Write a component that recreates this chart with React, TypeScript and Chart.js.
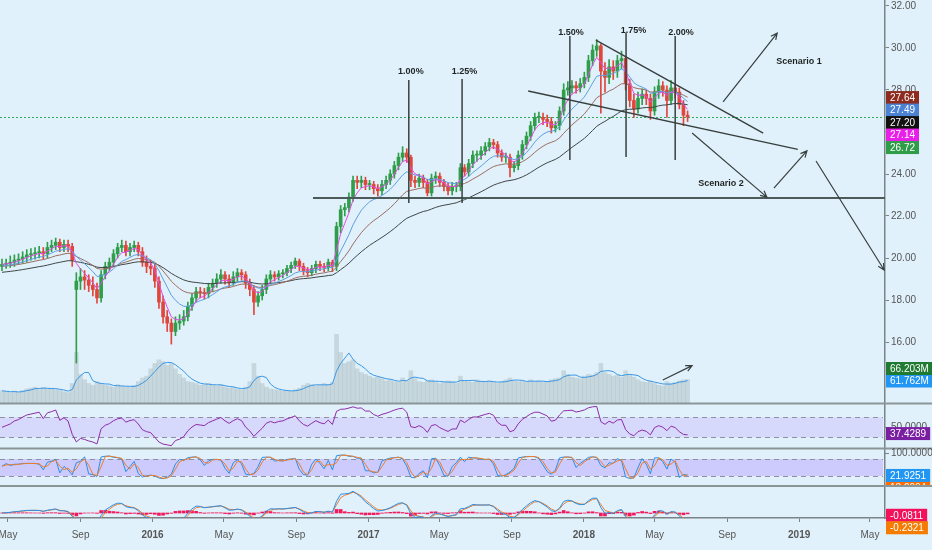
import { useEffect, useRef } from 'react';
import { Chart, registerables } from 'chart.js';

Chart.register(...registerables);

const FONT = "'Liberation Sans', Arial, sans-serif";
const BG = '#e1f1fb';

// ---------- weekly price data ----------
const closes = [
  19.7, 19.75, 19.8, 19.9, 19.95, 20.05, 20.15, 20.2, 20.25, 20.3,
  20.2, 20.5, 20.6, 20.75, 20.5, 20.65, 20.55, 19.9, 18.9, 19.1,
  18.95, 18.7, 18.5, 18.1, 19.2, 19.6, 19.8, 20.2, 20.5, 20.6,
  20.3, 20.5, 20.6, 20.3, 19.8, 19.6, 19.5, 18.9, 17.9, 17.2,
  16.9, 16.5, 16.9, 17.0, 17.2, 17.7, 18.1, 18.4, 18.35, 18.3,
  18.6, 18.8, 19.0, 19.2, 19.0, 18.85, 19.1, 19.3, 19.2, 18.8,
  18.5, 17.9, 18.2, 18.5, 19.0, 19.2, 19.1, 19.25, 19.3, 19.5,
  19.65, 19.85, 19.6, 19.4, 19.3, 19.5, 19.7, 19.6, 19.55, 19.8,
  19.6, 21.5, 22.3, 22.4, 22.9, 23.7, 23.6, 23.7, 23.5, 23.5,
  23.3, 23.2, 23.5, 23.7, 24.0, 24.4, 24.8, 25.0, 24.8, 23.7,
  23.6, 23.8, 23.6, 23.1, 23.8, 23.9, 23.6, 23.4, 23.2, 23.4,
  23.4, 24.3, 24.1, 24.5, 24.9, 24.9, 25.1, 25.3, 25.5, 25.4,
  25.0, 24.8, 24.8, 24.3, 24.4, 24.9, 25.4, 25.8, 26.3, 26.7,
  26.7, 26.6, 26.5, 26.2, 26.3, 27.0, 28.0, 28.1, 28.2, 28.1,
  28.3, 28.6, 29.4, 29.9, 30.1, 28.9, 28.6, 29.1, 28.9, 29.4,
  29.5, 28.3, 27.5, 27.1, 27.6, 27.8, 27.6, 27.0, 27.9, 28.2,
  28.0, 27.5, 28.1, 27.9, 27.3, 26.8, 26.72,
];
const opens = [
  19.6, 19.7, 19.75, 19.8, 19.9, 19.95, 20.05, 20.15, 20.2, 20.25,
  20.3, 20.2, 20.5, 20.6, 20.75, 20.5, 20.65, 20.55, 18.5, 18.9,
  19.1, 18.95, 18.7, 18.5, 18.1, 19.2, 19.6, 19.8, 20.2, 20.5,
  20.6, 20.3, 20.5, 20.6, 20.3, 19.8, 19.6, 19.5, 18.9, 17.9,
  17.2, 16.9, 16.5, 16.9, 17.0, 17.2, 17.7, 18.1, 18.4, 18.35,
  18.3, 18.6, 18.8, 19.0, 19.2, 19.0, 18.85, 19.1, 19.3, 19.2,
  18.8, 18.5, 17.9, 18.2, 18.5, 19.0, 19.2, 19.1, 19.25, 19.3,
  19.5, 19.65, 19.85, 19.6, 19.4, 19.3, 19.5, 19.7, 19.6, 19.55,
  19.8, 19.6, 21.5, 22.3, 22.4, 22.9, 23.7, 23.6, 23.7, 23.5,
  23.5, 23.3, 23.2, 23.5, 23.7, 24.0, 24.4, 24.8, 25.0, 24.8,
  23.7, 23.6, 23.8, 23.6, 23.1, 23.8, 23.9, 23.6, 23.4, 23.2,
  23.4, 23.4, 24.3, 24.1, 24.5, 24.9, 24.9, 25.1, 25.3, 25.5,
  25.4, 25.0, 24.8, 24.8, 24.3, 24.4, 24.9, 25.4, 25.8, 26.3,
  26.7, 26.7, 26.6, 26.5, 26.2, 26.3, 27.0, 28.0, 28.1, 28.2,
  28.1, 28.3, 28.6, 29.4, 29.9, 30.1, 28.9, 28.6, 29.1, 28.9,
  29.4, 29.5, 28.3, 27.5, 27.1, 27.6, 27.8, 27.6, 27.0, 27.9,
  28.2, 28.0, 27.5, 28.1, 27.9, 27.3, 26.8,
];
const highs = [
  19.95, 19.95, 20.1, 20.15, 20.2, 20.3, 20.4, 20.45, 20.5, 20.55,
  20.5, 20.75, 20.85, 20.95, 20.9, 20.85, 20.85, 20.7, 19.3, 19.5,
  19.4, 19.2, 19.1, 18.8, 19.4, 19.8, 20.0, 20.4, 20.7, 20.85,
  20.8, 20.7, 20.8, 20.75, 20.5, 20.1, 19.9, 19.7, 19.1, 18.2,
  17.5, 17.1, 17.2, 17.3, 17.5, 17.9, 18.3, 18.6, 18.6, 18.55,
  18.8, 19.0, 19.25, 19.45, 19.35, 19.2, 19.35, 19.5, 19.45, 19.35,
  19.0, 18.7, 18.4, 18.7, 19.2, 19.4, 19.35, 19.4, 19.45, 19.65,
  19.8, 20.0, 19.95, 19.75, 19.55, 19.65, 19.85, 19.85, 19.75, 19.95,
  19.9, 21.7, 22.5, 22.6, 23.1, 23.9, 23.9, 23.9, 23.85, 23.7,
  23.65, 23.5, 23.7, 23.9, 24.2, 24.6, 25.0, 25.3, 25.2, 24.9,
  23.9, 24.0, 23.95, 23.75, 24.0, 24.1, 24.05, 23.75, 23.55, 23.6,
  23.6, 24.5, 24.45, 24.7, 25.1, 25.1, 25.3, 25.5, 25.7, 25.65,
  25.55, 25.15, 25.0, 24.95, 24.6, 25.1, 25.6, 26.0, 26.5, 26.9,
  26.95, 26.9, 26.8, 26.7, 26.5, 27.2, 28.3, 28.4, 28.45, 28.4,
  28.55, 28.85, 29.65, 30.15, 30.4, 30.2, 29.3, 29.45, 29.4, 29.65,
  29.85, 29.6, 28.5, 27.8, 27.9, 28.05, 28.0, 27.8, 28.15, 28.5,
  28.4, 28.2, 28.45, 28.3, 28.1, 27.5, 27.0,
];
const lows = [
  19.4, 19.5, 19.55, 19.6, 19.7, 19.75, 19.8, 19.9, 19.95, 20.0,
  19.95, 20.0, 20.3, 20.4, 20.3, 20.3, 20.3, 19.6, 15.0, 18.5,
  18.5, 18.4, 18.2, 17.85, 17.9, 19.0, 19.4, 19.6, 20.0, 20.3,
  20.1, 20.1, 20.3, 20.1, 19.6, 19.3, 19.2, 18.6, 17.6, 16.9,
  16.5, 15.9, 16.3, 16.6, 16.8, 17.0, 17.5, 17.9, 18.1, 18.05,
  18.1, 18.4, 18.6, 18.8, 18.75, 18.6, 18.7, 18.9, 18.95, 18.55,
  18.2, 17.3, 17.7, 18.0, 18.3, 18.8, 18.9, 18.95, 19.05, 19.15,
  19.3, 19.5, 19.4, 19.2, 19.1, 19.15, 19.3, 19.4, 19.35, 19.4,
  19.35, 19.4, 21.2, 22.0, 22.2, 22.7, 23.3, 23.35, 23.25, 23.25,
  23.05, 22.95, 23.0, 23.3, 23.5, 23.8, 24.2, 24.6, 24.55, 23.4,
  23.35, 23.4, 23.35, 22.96, 22.95, 23.55, 23.4, 23.2, 23.0, 23.0,
  23.15, 23.2, 23.9, 23.9, 24.3, 24.6, 24.7, 24.9, 25.1, 25.2,
  24.8, 24.6, 24.55, 23.86, 24.1, 24.2, 24.7, 25.2, 25.6, 26.1,
  26.45, 26.35, 26.25, 25.95, 26.0, 26.1, 26.8, 27.75, 27.85, 27.85,
  27.9, 28.1, 28.4, 29.15, 29.6, 26.9, 27.9, 28.3, 28.5, 28.6,
  29.0, 28.0, 27.2, 26.7, 26.9, 27.3, 27.3, 26.6, 26.8, 27.6,
  27.7, 26.7, 27.3, 27.6, 27.1, 26.3, 26.5,
];
// average daily volume per week, millions
const volumes = [
  35, 32, 30, 34, 31, 36, 40, 42, 45, 38, 44, 40, 42, 38, 36, 32, 30, 55, 140, 80,
  65, 55, 50, 60, 55, 50, 48, 45, 52, 48, 45, 44, 50, 60, 70, 75, 95, 110, 120, 115,
  105, 110, 95, 80, 70, 60, 58, 55, 50, 52, 55, 50, 48, 52, 45, 42, 44, 40, 38, 45,
  60, 110, 75, 55, 45, 40, 38, 36, 34, 35, 33, 38, 42, 50, 55, 52, 48, 50, 55, 52, 58,
  190, 140, 110, 115, 120, 95, 85, 80, 75, 70, 72, 68, 62, 65, 60, 58, 70, 62, 90, 68,
  60, 58, 62, 65, 60, 55, 58, 62, 60, 55, 75, 62, 60, 58, 65, 60, 58, 62, 60, 55,
  60, 65, 70, 62, 60, 62, 58, 65, 60, 62, 58, 60, 65, 68, 70, 90, 80, 72, 70, 68,
  75, 80, 78, 85, 110, 85, 80, 75, 78, 72, 90, 80, 72, 65, 60, 58, 62, 55, 50, 48,
  60, 55, 58, 62, 65, 66.2,
];

// moving averages (periods in weeks) and their starting values read at the left edge
const maPeriods = [4, 10, 20, 40];
const maSeeds = [19.7, 19.6, 19.6, 19.3];
const maColors = ['#e24be6', '#5f9fe0', '#9b6d63', '#3e4747'];

// time axis
const tickWeeks = [1.45, 19.02, 36.45, 53.74, 71.31, 88.74, 105.88, 123.45, 140.88, 158.02, 175.59, 193.02, 210.16];
const tickLabels = ['May', 'Sep', '2016', 'May', 'Sep', '2017', 'May', 'Sep', '2018', 'May', 'Sep', '2019', 'May'];
const priceTicks = [16, 18, 20, 22, 24, 26, 28, 30, 32];

// annotations (data coordinates: week index, price)
const hikeLines = [
  { label: '1.00%', week: 98.5, labelWeek: 99.0, top: 28.48, bottom: 22.62, labelPrice: 28.86 },
  { label: '1.25%', week: 111.4, labelWeek: 112.0, top: 28.52, bottom: 22.62, labelPrice: 28.86 },
  { label: '1.50%', week: 137.5, labelWeek: 137.8, top: 30.57, bottom: 24.67, labelPrice: 30.72 },
  { label: '1.75%', week: 151.1, labelWeek: 152.9, top: 30.72, bottom: 24.81, labelPrice: 30.81 },
  { label: '2.00%', week: 163.0, labelWeek: 164.4, top: 30.57, bottom: 24.67, labelPrice: 30.76 },
];
const supportLevel = 22.86;
const supportStartWeek = 75.3;
const trendLines = [
  { w1: 143.8, p1: 30.38, w2: 184.3, p2: 25.95 },
  { w1: 127.4, p1: 27.95, w2: 192.7, p2: 25.17 },
];
const arrows = [
  { w1: 174.6, p1: 27.43, w2: 187.7, p2: 30.71 },
  { w1: 167.1, p1: 25.95, w2: 185.2, p2: 22.9 },
  { w1: 186.9, p1: 23.33, w2: 194.9, p2: 25.1 },
  { w1: 197.1, p1: 24.62, w2: 213.6, p2: 19.43 },
];
const volumeArrow = { w1: 160.0, v1: 64.6, w2: 167.1, v2: 103.9 };
const scenarioTexts = [
  { text: 'Scenario 1', week: 193.0, price: 29.38 },
  { text: 'Scenario 2', week: 174.1, price: 23.57 },
];

// last-value labels
const priceLabels = [
  { text: '27.64', value: 27.64, color: '#8d2c1e' },
  { text: '27.49', value: 27.49, color: '#4b82d4' },
  { text: '27.20', value: 27.2, color: '#111111' },
  { text: '27.14', value: 27.14, color: '#e81fe8' },
  { text: '26.72', value: 26.72, color: '#2f9c48' },
];
const lastClose = 26.72;

// ---------- layout ----------
const WIDTH = 932;
const HEIGHT = 550;
const AXIS_W = 47;
const XAXIS_H = 32;
const PLOT_BOTTOM = HEIGHT - XAXIS_H;
const SEPARATORS = [403.5, 448.5, 486];

function rangeFrom(pxA: number, vA: number, pxB: number, vB: number) {
  const k = (vB - vA) / (pxB - pxA);
  return { max: vA + (0 - pxA) * k, min: vA + (PLOT_BOTTOM - pxA) * k };
}
const priceRange = rangeFrom(6, 32, 342, 16);
const volRange = rangeFrom(403.5, 0, 381, 61.762);
const rsiRange = rangeFrom(417.3, 70, 437.3, 30);
const stoRange = rangeFrom(459, 80, 476, 20);
const macdRange = rangeFrom(513, 0, 485, 1);

// ---------- indicators ----------
function ema(src: number[], n: number, seed?: number) {
  const k = 2 / (n + 1);
  const out: number[] = [];
  let prev = seed === undefined ? src[0] : seed;
  src.forEach((v) => {
    prev = v * k + prev * (1 - k);
    out.push(prev);
  });
  return out;
}
function sma(src: number[], n: number) {
  return src.map((_, i) => {
    const s = src.slice(Math.max(0, i - n + 1), i + 1);
    return s.reduce((a, b) => a + b, 0) / s.length;
  });
}
function rsi(src: number[], n: number) {
  let ag = 0.05;
  let al = 0.05;
  const out = [50];
  for (let i = 1; i < src.length; i++) {
    const d = src[i] - src[i - 1];
    ag = (ag * (n - 1) + Math.max(d, 0)) / n;
    al = (al * (n - 1) + Math.max(-d, 0)) / n;
    out.push(100 - 100 / (1 + ag / al));
  }
  return out;
}
function stoch(n: number) {
  return closes.map((c, i) => {
    const a = Math.max(0, i - n + 1);
    const hh = Math.max(...highs.slice(a, i + 1));
    const ll = Math.min(...lows.slice(a, i + 1));
    return hh === ll ? 50 : ((c - ll) / (hh - ll)) * 100;
  });
}

export default function App() {
  const ref = useRef<HTMLCanvasElement | null>(null);

  useEffect(() => {
    const canvas = ref.current;
    if (!canvas) return;
    const idx = closes.map((_, i) => i);
    const up = idx.map((i) => closes[i] >= opens[i]);
    const candleColors = up.map((u) => (u ? '#2f9e4a' : '#e0463b'));

    const mas = maPeriods.map((p, k) => ema(closes, p, maSeeds[k]));
    const volMa = sma(volumes, 4);
    const rsiVals = rsi(closes, 8);
    const stoK = stoch(3);
    const stoD = sma(stoK, 2);
    const slow = ema(closes, 6);
    const macdLine = ema(closes, 3).map((v, i) => v - slow[i]);
    const signal = ema(macdLine, 2);
    const hist = macdLine.map((v, i) => v - signal[i]);

    const pts = (arr: number[]) => arr.map((v, i) => ({ x: i, y: v }));
    const line = (label: string, arr: number[], color: string, yAxisID: string, order: number) => ({
      type: 'line' as const,
      label,
      data: pts(arr),
      borderColor: color,
      borderWidth: 1,
      pointRadius: 0,
      tension: 0,
      fill: false,
      yAxisID,
      order,
    });

    const overlay = {
      id: 'overlay',
      beforeDraw(chart: any) {
        const { ctx } = chart;
        ctx.save();
        ctx.fillStyle = BG;
        ctx.fillRect(0, 0, WIDTH, HEIGHT);
        const area = chart.chartArea;
        const band = (axis: string, hi: number, lo: number, fill: string) => {
          const s = chart.scales[axis];
          const y1 = s.getPixelForValue(hi);
          const y2 = s.getPixelForValue(lo);
          ctx.fillStyle = fill;
          ctx.fillRect(area.left, y1, area.right - area.left - 2, y2 - y1);
          ctx.strokeStyle = '#8f8fa0';
          ctx.lineWidth = 1;
          ctx.setLineDash([5, 4]);
          [y1, y2].forEach((y: number) => {
            ctx.beginPath();
            ctx.moveTo(area.left, Math.round(y) + 0.5);
            ctx.lineTo(area.right - 2, Math.round(y) + 0.5);
            ctx.stroke();
          });
          ctx.setLineDash([]);
        };
        band('yRsi', 70, 30, 'rgba(196,180,255,0.38)');
        band('ySto', 80, 20, 'rgba(190,170,255,0.55)');
        ctx.restore();
      },
      beforeDatasetsDraw(chart: any) {
        const { ctx } = chart;
        const area = chart.chartArea;
        const y = Math.round(chart.scales.y.getPixelForValue(lastClose)) + 0.5;
        ctx.save();
        ctx.strokeStyle = '#35a95a';
        ctx.lineWidth = 1;
        ctx.setLineDash([2, 2]);
        ctx.beginPath();
        ctx.moveTo(area.left, y);
        ctx.lineTo(area.right, y);
        ctx.stroke();
        ctx.restore();
      },
      afterDatasetsDraw(chart: any) {
        const { ctx } = chart;
        const X = (w: number) => chart.scales.x.getPixelForValue(w);
        const P = (p: number) => chart.scales.y.getPixelForValue(p);
        const V = (v: number) => chart.scales.yVol.getPixelForValue(v);
        ctx.save();
        ctx.lineCap = 'butt';
        // support line
        ctx.strokeStyle = '#4d5a5a';
        ctx.lineWidth = 2;
        ctx.beginPath();
        ctx.moveTo(X(supportStartWeek), P(supportLevel));
        ctx.lineTo(chart.chartArea.right, P(supportLevel));
        ctx.stroke();
        // hike lines
        ctx.strokeStyle = '#38403f';
        ctx.lineWidth = 1.5;
        ctx.fillStyle = '#1d2222';
        ctx.font = `bold 9px ${FONT}`;
        ctx.textAlign = 'center';
        ctx.textBaseline = 'middle';
        hikeLines.forEach((h) => {
          ctx.beginPath();
          ctx.moveTo(X(h.week), P(h.top));
          ctx.lineTo(X(h.week), P(h.bottom));
          ctx.stroke();
          ctx.fillText(h.label, X(h.labelWeek), P(h.labelPrice));
        });
        // trend lines
        ctx.lineWidth = 1.4;
        trendLines.forEach((t) => {
          ctx.beginPath();
          ctx.moveTo(X(t.w1), P(t.p1));
          ctx.lineTo(X(t.w2), P(t.p2));
          ctx.stroke();
        });
        const arrow = (x1: number, y1: number, x2: number, y2: number) => {
          ctx.beginPath();
          ctx.moveTo(x1, y1);
          ctx.lineTo(x2, y2);
          const a = Math.atan2(y2 - y1, x2 - x1);
          const L = 7;
          ctx.moveTo(x2 - L * Math.cos(a - 0.45), y2 - L * Math.sin(a - 0.45));
          ctx.lineTo(x2, y2);
          ctx.lineTo(x2 - L * Math.cos(a + 0.45), y2 - L * Math.sin(a + 0.45));
          ctx.stroke();
        };
        ctx.lineWidth = 1.2;
        arrows.forEach((a) => arrow(X(a.w1), P(a.p1), X(a.w2), P(a.p2)));
        arrow(X(volumeArrow.w1), V(volumeArrow.v1), X(volumeArrow.w2), V(volumeArrow.v2));
        scenarioTexts.forEach((s) => ctx.fillText(s.text, X(s.week), P(s.price)));
        ctx.restore();
      },
      afterDraw(chart: any) {
        const { ctx } = chart;
        ctx.save();
        // pane separators
        ctx.strokeStyle = '#8b9597';
        ctx.lineWidth = 2;
        SEPARATORS.forEach((y) => {
          ctx.beginPath();
          ctx.moveTo(0, y);
          ctx.lineTo(WIDTH, y);
          ctx.stroke();
        });
        ctx.font = `10px ${FONT}`;
        ctx.textBaseline = 'middle';
        ctx.textAlign = 'left';
        const axisX = chart.chartArea.right;
        const tickText = (txt: string, y: number) => {
          ctx.fillStyle = '#555';
          ctx.fillText(txt, axisX + 6, y);
          ctx.strokeStyle = '#7a8486';
          ctx.lineWidth = 1;
          ctx.beginPath();
          ctx.moveTo(axisX, Math.round(y) + 0.5);
          ctx.lineTo(axisX + 4, Math.round(y) + 0.5);
          ctx.stroke();
        };
        tickText('50.0000', chart.scales.yRsi.getPixelForValue(50));
        tickText('100.0000', chart.scales.ySto.getPixelForValue(100));
        const box = (txt: string, color: string, cy: number, clipTop = 0, clipBottom = HEIGHT) => {
          ctx.save();
          ctx.beginPath();
          ctx.rect(axisX, clipTop, WIDTH - axisX, clipBottom - clipTop);
          ctx.clip();
          const w = ctx.measureText(txt).width + 8;
          ctx.fillStyle = color;
          ctx.fillRect(axisX + 1, cy - 6.5, w, 13);
          ctx.fillStyle = '#ffffff';
          ctx.fillText(txt, axisX + 5, cy + 0.5);
          ctx.restore();
        };
        // price labels: stacked downward from the highest
        let prev = -Infinity;
        priceLabels.forEach((l) => {
          const y = Math.max(chart.scales.y.getPixelForValue(l.value), prev + 12.5);
          box(l.text, l.color, y);
          prev = y;
        });
        // volume labels: stacked upward from the lowest
        const vMa = chart.scales.yVol.getPixelForValue(61.762);
        box('61.762M', '#2196f3', vMa);
        box('66.203M', '#1e7b31', Math.min(chart.scales.yVol.getPixelForValue(66.203), vMa - 12.5));
        const kY = chart.scales.ySto.getPixelForValue(21.9251);
        box('18.2004', '#ff6d00', kY + 12.5, SEPARATORS[1], SEPARATORS[2] - 1);
        box('37.4289', '#7b1fa2', chart.scales.yRsi.getPixelForValue(37.4289));
        box('21.9251', '#2196f3', kY);
        const hY = chart.scales.yMacd.getPixelForValue(-0.0811);
        box('-0.0811', '#f2115a', hY);
        box('-0.2321', '#f57c00', Math.max(chart.scales.yMacd.getPixelForValue(-0.2321), hY + 12.5));
        ctx.restore();
      },
    };

    const chart = new Chart(canvas, {
      type: 'bar',
      data: {
        datasets: [
          ...mas.map((m, k) => line(`MA${maPeriods[k]}`, m, maColors[k], 'y', 1)),
          {
            type: 'bar',
            label: 'body',
            data: idx.map((i) => ({ x: i, y: [Math.min(opens[i], closes[i]), Math.max(opens[i], closes[i])] })),
            backgroundColor: candleColors,
            barThickness: 3,
            minBarLength: 1,
            grouped: false,
            yAxisID: 'y',
            order: 2,
          },
          {
            type: 'bar',
            label: 'wick',
            data: idx.map((i) => ({ x: i, y: [lows[i], highs[i]] })),
            backgroundColor: candleColors,
            barThickness: 1,
            grouped: false,
            yAxisID: 'y',
            order: 3,
          },
          line('VolMA', volMa, '#3a98e6', 'yVol', 4),
          {
            type: 'bar',
            label: 'Volume',
            data: pts(volumes),
            backgroundColor: 'rgba(150,168,172,0.36)',
            barThickness: 4,
            grouped: false,
            yAxisID: 'yVol',
            order: 5,
          },
          line('RSI', rsiVals, '#8e2ba8', 'yRsi', 1),
          line('%K', stoK, '#2a8fe8', 'ySto', 2),
          line('%D', stoD, '#f07d2a', 'ySto', 1),
          line('MACD', macdLine, '#2a8fe8', 'yMacd', 1),
          line('Signal', signal, '#f07d2a', 'yMacd', 1),
          {
            type: 'bar',
            label: 'Hist',
            data: pts(hist),
            backgroundColor: '#f2185c',
            barThickness: 3,
            grouped: false,
            yAxisID: 'yMacd',
            order: 3,
          },
        ] as any,
      },
      options: {
        responsive: false,
        animation: false,
        devicePixelRatio: 1,
        events: [],
        layout: { padding: 0 },
        plugins: { legend: { display: false }, tooltip: { enabled: false } },
        scales: {
          x: {
            type: 'linear',
            position: 'bottom',
            offset: false,
            min: -0.484,
            max: 213.8,
            afterBuildTicks: (s: any) => {
              s.ticks = tickWeeks.map((v) => ({ value: v }));
            },
            afterFit: (s: any) => {
              s.height = XAXIS_H;
              s.paddingLeft = 0;
              s.paddingRight = 0;
            },
            ticks: {
              autoSkip: false,
              maxRotation: 0,
              padding: 7,
              color: '#555',
              callback: (_v: any, i: number) => tickLabels[i],
              font: (c: any) => ({
                family: FONT,
                size: 10,
                weight: /^\d{4}$/.test(String(c.tick && c.tick.label)) ? 'bold' : 'normal',
              }),
            },
            grid: { drawOnChartArea: false, offset: false, tickLength: 4, color: '#7a8486' },
            border: { color: '#7a8486', width: 1.5 },
          },
          y: {
            type: 'linear',
            position: 'right',
            min: priceRange.min,
            max: priceRange.max,
            afterBuildTicks: (s: any) => {
              s.ticks = priceTicks.map((v) => ({ value: v }));
            },
            afterFit: (s: any) => {
              s.width = AXIS_W;
              s.paddingTop = 0;
              s.paddingBottom = 0;
            },
            ticks: {
              padding: 2,
              color: '#555',
              font: { family: FONT, size: 10 },
              callback: (v: any) => Number(v).toFixed(2),
            },
            grid: { drawOnChartArea: false, tickLength: 4, color: '#7a8486' },
            border: { color: '#7a8486', width: 1.5 },
          },
          yVol: { type: 'linear', display: false, min: volRange.min, max: volRange.max },
          yRsi: { type: 'linear', display: false, min: rsiRange.min, max: rsiRange.max },
          ySto: { type: 'linear', display: false, min: stoRange.min, max: stoRange.max },
          yMacd: { type: 'linear', display: false, min: macdRange.min, max: macdRange.max },
        },
      } as any,
      plugins: [overlay],
    });
    return () => chart.destroy();
  }, []);

  return (
    <div style={{ position: 'fixed', left: 0, top: 0, width: WIDTH, height: HEIGHT, background: BG }}>
      <canvas ref={ref} width={WIDTH} height={HEIGHT} style={{ display: 'block' }} />
    </div>
  );
}
